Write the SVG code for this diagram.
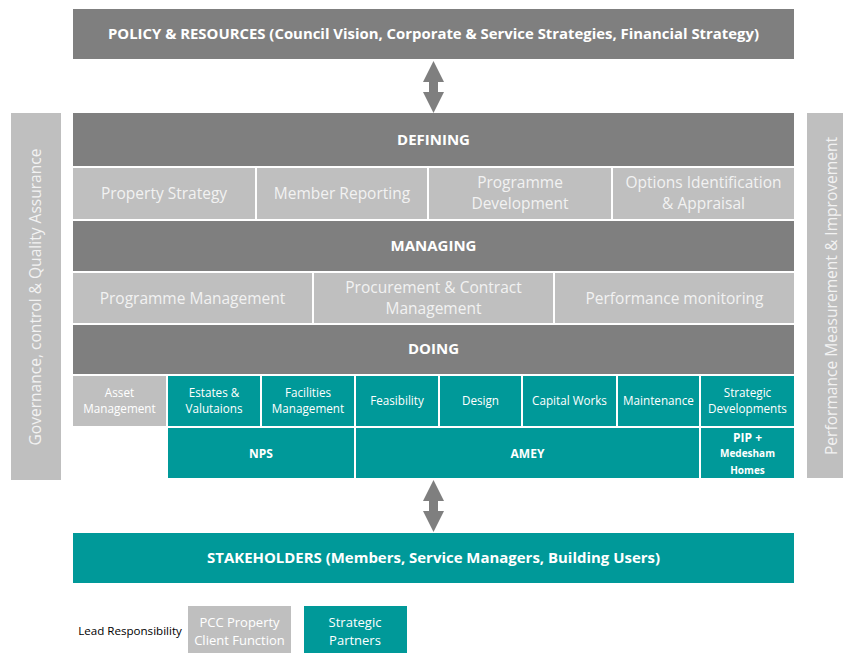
<svg xmlns="http://www.w3.org/2000/svg" width="843" height="653" viewBox="0 0 843 653">
<style>
text{font-family:"Open Sans","Noto Sans","Liberation Sans",sans-serif;fill:#fff;text-anchor:middle}
.d{fill:#7f7f7f}.l{fill:#bfbfbf}.t{fill:#009999}
.h{font-weight:700;font-size:15px}
.m{font-size:15.5px;fill:#f2f2f2}
.s{font-size:11.7px}
.b{font-weight:700;font-size:12px}
.a{fill:#7f7f7f}
.g{font-size:13px}
</style>
<rect width="843" height="653" fill="#fff"/>
<g id="policy"><rect class="d" x="73" y="9" width="721" height="50"/><text class="h" x="433.500" y="39" textLength="651" lengthAdjust="spacingAndGlyphs">POLICY &amp; RESOURCES (Council Vision, Corporate &amp; Service Strategies, Financial Strategy)</text></g>
<g id="connectors">
<path class="a" d="M433.500 61L444 82H438V92H444L433.500 113L423 92H429V82H423Z"/>
<path class="a" d="M433.500 480L444 501H438V511H444L433.500 532L423 511H429V501H423Z"/>
</g>
<g id="governance"><rect class="l" x="11" y="113" width="50" height="367"/><text class="m" transform="translate(41 297) rotate(-90)" textLength="297" lengthAdjust="spacingAndGlyphs">Governance, control &amp; Quality Assurance</text></g>
<g id="performance"><rect class="l" x="807" y="113" width="36" height="365"/><text class="m" transform="translate(837 296) rotate(-90)" textLength="318" lengthAdjust="spacingAndGlyphs">Performance Measurement &amp; Improvement</text></g>
<g id="defining"><rect class="d" x="73" y="113" width="721" height="53"/><text class="h" x="433.500" y="145">DEFINING</text></g>
<g id="property-strategy"><rect class="l" x="73" y="168" width="182" height="51"/><text class="m" x="164" y="199">Property Strategy</text></g>
<g id="member-reporting"><rect class="l" x="257" y="168" width="170" height="51"/><text class="m" x="342" y="199">Member Reporting</text></g>
<g id="programme-development"><rect class="l" x="429" y="168" width="182" height="51"/><text class="m" x="520" y="188">Programme</text><text class="m" x="520" y="209">Development</text></g>
<g id="options"><rect class="l" x="613" y="168" width="181" height="51"/><text class="m" x="703.500" y="188">Options Identification</text><text class="m" x="703.500" y="209">&amp; Appraisal</text></g>
<g id="managing"><rect class="d" x="73" y="221" width="721" height="50"/><text class="h" x="433.500" y="251">MANAGING</text></g>
<g id="programme-management"><rect class="l" x="73" y="273" width="239" height="50"/><text class="m" x="192.500" y="304">Programme Management</text></g>
<g id="procurement"><rect class="l" x="314" y="273" width="239" height="50"/><text class="m" x="433.500" y="293">Procurement &amp; Contract</text><text class="m" x="433.500" y="314">Management</text></g>
<g id="performance-monitoring"><rect class="l" x="555" y="273" width="239" height="50"/><text class="m" x="674.500" y="304">Performance monitoring</text></g>
<g id="doing"><rect class="d" x="73" y="325" width="721" height="49"/><text class="h" x="433.500" y="354">DOING</text></g>
<g id="asset"><rect class="l" x="73" y="376" width="93" height="50"/><text class="s" x="119.500" y="397">Asset</text><text class="s" x="119.500" y="413">Management</text></g>
<g id="estates"><rect class="t" x="168" y="376" width="92" height="50"/><text class="s" x="214" y="397">Estates &amp;</text><text class="s" x="214" y="413">Valutaions</text></g>
<g id="facilities"><rect class="t" x="262" y="376" width="92" height="50"/><text class="s" x="308" y="397">Facilities</text><text class="s" x="308" y="413">Management</text></g>
<g id="feasibility"><rect class="t" x="356" y="376" width="82" height="50"/><text class="s" x="397" y="405">Feasibility</text></g>
<g id="design"><rect class="t" x="440" y="376" width="81" height="50"/><text class="s" x="480.500" y="405">Design</text></g>
<g id="capital-works"><rect class="t" x="523" y="376" width="93" height="50"/><text class="s" x="569.500" y="405">Capital Works</text></g>
<g id="maintenance"><rect class="t" x="618" y="376" width="81" height="50"/><text class="s" x="658.500" y="405">Maintenance</text></g>
<g id="strategic-developments"><rect class="t" x="701" y="376" width="93" height="50"/><text class="s" x="747.500" y="397">Strategic</text><text class="s" x="747.500" y="413">Developments</text></g>
<g id="nps"><rect class="t" x="168" y="428" width="186" height="50"/><text class="b" x="261" y="458">NPS</text></g>
<g id="amey"><rect class="t" x="356" y="428" width="343" height="50"/><text class="b" x="527.500" y="458">AMEY</text></g>
<g id="pip"><rect class="t" x="701" y="428" width="93" height="50"/><text class="b" x="747.500" y="442">PIP +</text><text class="b" style="font-size:10px" x="747.500" y="457">Medesham</text><text class="b" style="font-size:10px" x="747.500" y="474">Homes</text></g>
<g id="stakeholders"><rect class="t" x="73" y="533" width="721" height="50"/><text class="h" x="433.500" y="563" textLength="453" lengthAdjust="spacingAndGlyphs">STAKEHOLDERS (Members, Service Managers, Building Users)</text></g>
<g id="legend-label"><text style="font-size:11.600px;fill:#000" x="130" y="635">Lead Responsibility</text></g>
<g id="legend-pcc"><rect class="l" x="188" y="606" width="103" height="47"/><text class="g" x="239.500" y="627">PCC Property</text><text class="g" x="239.500" y="645">Client Function</text></g>
<g id="legend-partners"><rect class="t" x="304" y="606" width="103" height="47"/><text class="g" x="355" y="627">Strategic</text><text class="g" x="355" y="645">Partners</text></g>
</svg>
